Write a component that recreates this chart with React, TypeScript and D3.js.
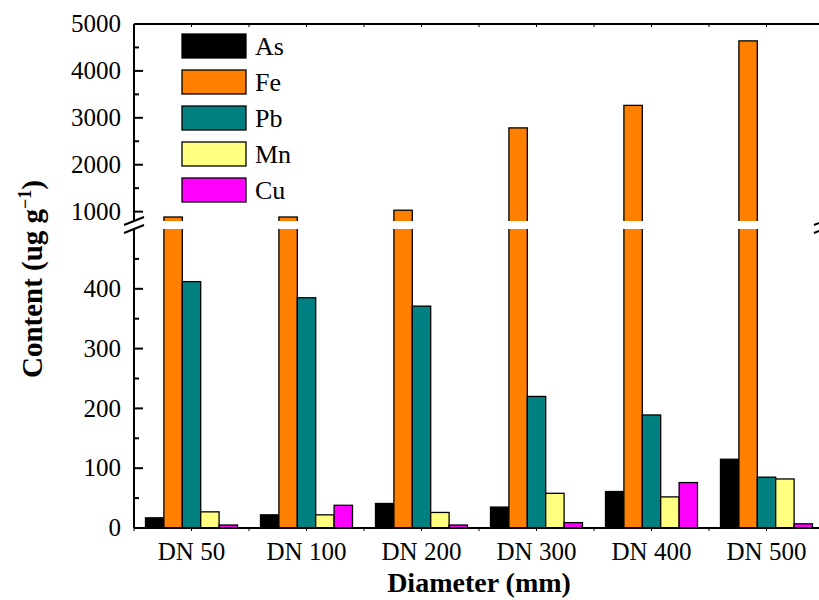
import * as d3 from 'd3';

const categories = ['DN 50', 'DN 100', 'DN 200', 'DN 300', 'DN 400', 'DN 500'];
const seriesNames = ['As', 'Fe', 'Pb', 'Mn', 'Cu'];
const colors = ['#000000', '#FF8000', '#008080', '#FFFF80', '#FF00FF'];

const asValues = [17, 22, 41, 35, 61, 115];
const feValues = [885, 885, 1030, 2785, 3265, 4640];
const pbValues = [412, 385, 371, 220, 189, 85];
const mnValues = [27, 22, 26, 58, 52, 82];
const cuValues = [5, 38, 5, 9, 76, 7];
const allSeries = [asValues, feValues, pbValues, mnValues, cuValues];

const lowTicks = [0, 100, 200, 300, 400];
const lowMinor = [50, 150, 250, 350, 450];
const highTicks = [1000, 2000, 3000, 4000, 5000];
const highMinor = [1500, 2500, 3500, 4500];

const font = '"Liberation Serif", "Times New Roman", serif';

export default function App() {
  const left = 134;
  const right = 824;
  const top = 24;
  const bottom = 528;
  const breakTop = 221;
  const breakBottom = 229;

  const x = d3.scaleBand<string>().domain(categories).range([left, right]).paddingInner(0.2).paddingOuter(0.1);
  const xs = d3.scaleBand<string>().domain(seriesNames).range([0, x.bandwidth()]);
  const xl = d3.scaleLinear().domain([0.5, 6.5]).range([left, right]);

  const yLow = d3.scaleLinear().domain([0, 500]).range([bottom, breakBottom]);
  const yHigh = d3.scaleLinear().domain([800, 5000]).range([breakTop, top]);
  const yOf = (v: number) => (v > 500 ? yHigh(v) : yLow(v));

  const xTicks = d3.range(0.5, 6.51, 0.5);

  const breakMark = (cx: number, cy: number, k: string) => (
    <line key={k} x1={cx - 10} y1={cy + 4} x2={cx + 10} y2={cy - 4} stroke="#000" strokeWidth={2} />
  );

  return (
    <svg width={819} height={600} style={{ position: 'absolute', left: 0, top: 0, background: '#fff' }} fontFamily={font}>
      <rect width={819} height={600} fill="#fff" />

      {/* bars */}
      {allSeries.map((vals, si) =>
        vals.map((v, i) => (
          <rect
            key={`${si}-${i}`}
            x={(x(categories[i]) ?? 0) + (xs(seriesNames[si]) ?? 0)}
            y={yOf(v)}
            width={xs.bandwidth()}
            height={bottom - yOf(v)}
            fill={colors[si]}
            stroke="#000"
            strokeWidth={1.3}
          />
        ))
      )}

      {/* axis break gap */}
      <rect x={left - 12} y={breakTop} width={right - left + 24} height={breakBottom - breakTop} fill="#fff" />

      {/* frame */}
      <g stroke="#000" strokeWidth={2} fill="none">
        <line x1={left} y1={top} x2={right} y2={top} />
        <line x1={left} y1={bottom} x2={right} y2={bottom} />
        <line x1={left} y1={top} x2={left} y2={breakTop} />
        <line x1={left} y1={breakBottom} x2={left} y2={bottom} />
        <line x1={right} y1={top} x2={right} y2={breakTop} />
        <line x1={right} y1={breakBottom} x2={right} y2={bottom} />
        {breakMark(left, breakTop, 'bl1')}
        {breakMark(left, breakBottom, 'bl2')}
        {breakMark(right, breakTop, 'br1')}
        {breakMark(right, breakBottom, 'br2')}
      </g>

      {/* y ticks */}
      <g stroke="#000" strokeWidth={2}>
        {lowTicks.map((t) => (
          <line key={`lt${t}`} x1={left} x2={left + 9} y1={yLow(t)} y2={yLow(t)} />
        ))}
        {lowMinor.map((t) => (
          <line key={`lm${t}`} x1={left} x2={left + 5} y1={yLow(t)} y2={yLow(t)} />
        ))}
        {highTicks.map((t) => (
          <line key={`ht${t}`} x1={left} x2={left + 9} y1={yHigh(t)} y2={yHigh(t)} />
        ))}
        {highMinor.map((t) => (
          <line key={`hm${t}`} x1={left} x2={left + 5} y1={yHigh(t)} y2={yHigh(t)} />
        ))}
      </g>

      {/* x ticks */}
      <g stroke="#000" strokeWidth={1}>
        {xTicks.map((t) => (
          <g key={`xt${t}`}>
            <line x1={xl(t)} x2={xl(t)} y1={bottom} y2={bottom + 3} />
            <line x1={xl(t)} x2={xl(t)} y1={top} y2={top + 3} />
          </g>
        ))}
      </g>

      {/* y tick labels */}
      <g fontSize={25} textAnchor="end" fill="#000">
        {lowTicks.map((t) => (
          <text key={`ll${t}`} x={121} y={yLow(t)} dy="0.33em">{t}</text>
        ))}
        {highTicks.map((t) => (
          <text key={`hl${t}`} x={121} y={yHigh(t)} dy="0.33em">{t}</text>
        ))}
      </g>

      {/* x tick labels */}
      <g fontSize={25} textAnchor="middle" fill="#000">
        {categories.map((c) => (
          <text key={c} x={(x(c) ?? 0) + x.bandwidth() / 2} y={560}>{c}</text>
        ))}
      </g>

      {/* axis titles */}
      <text x={(left + right) / 2} y={592} textAnchor="middle" fontSize={28} fontWeight="bold">Diameter (mm)</text>
      <text transform="translate(42,279) rotate(-90)" textAnchor="middle" fontSize={29} fontWeight="bold">
        Content (ug g<tspan dy={-11} fontSize={18}>−1</tspan><tspan dy={11}>)</tspan>
      </text>

      {/* legend */}
      <g>
        {seriesNames.map((s, i) => (
          <g key={s} transform={`translate(182,${34 + i * 36})`}>
            <rect width={64} height={24} fill={colors[i]} stroke="#000" strokeWidth={1.3} />
            <text x={73} y={12} dy="0.35em" fontSize={26}>{s}</text>
          </g>
        ))}
      </g>
    </svg>
  );
}
